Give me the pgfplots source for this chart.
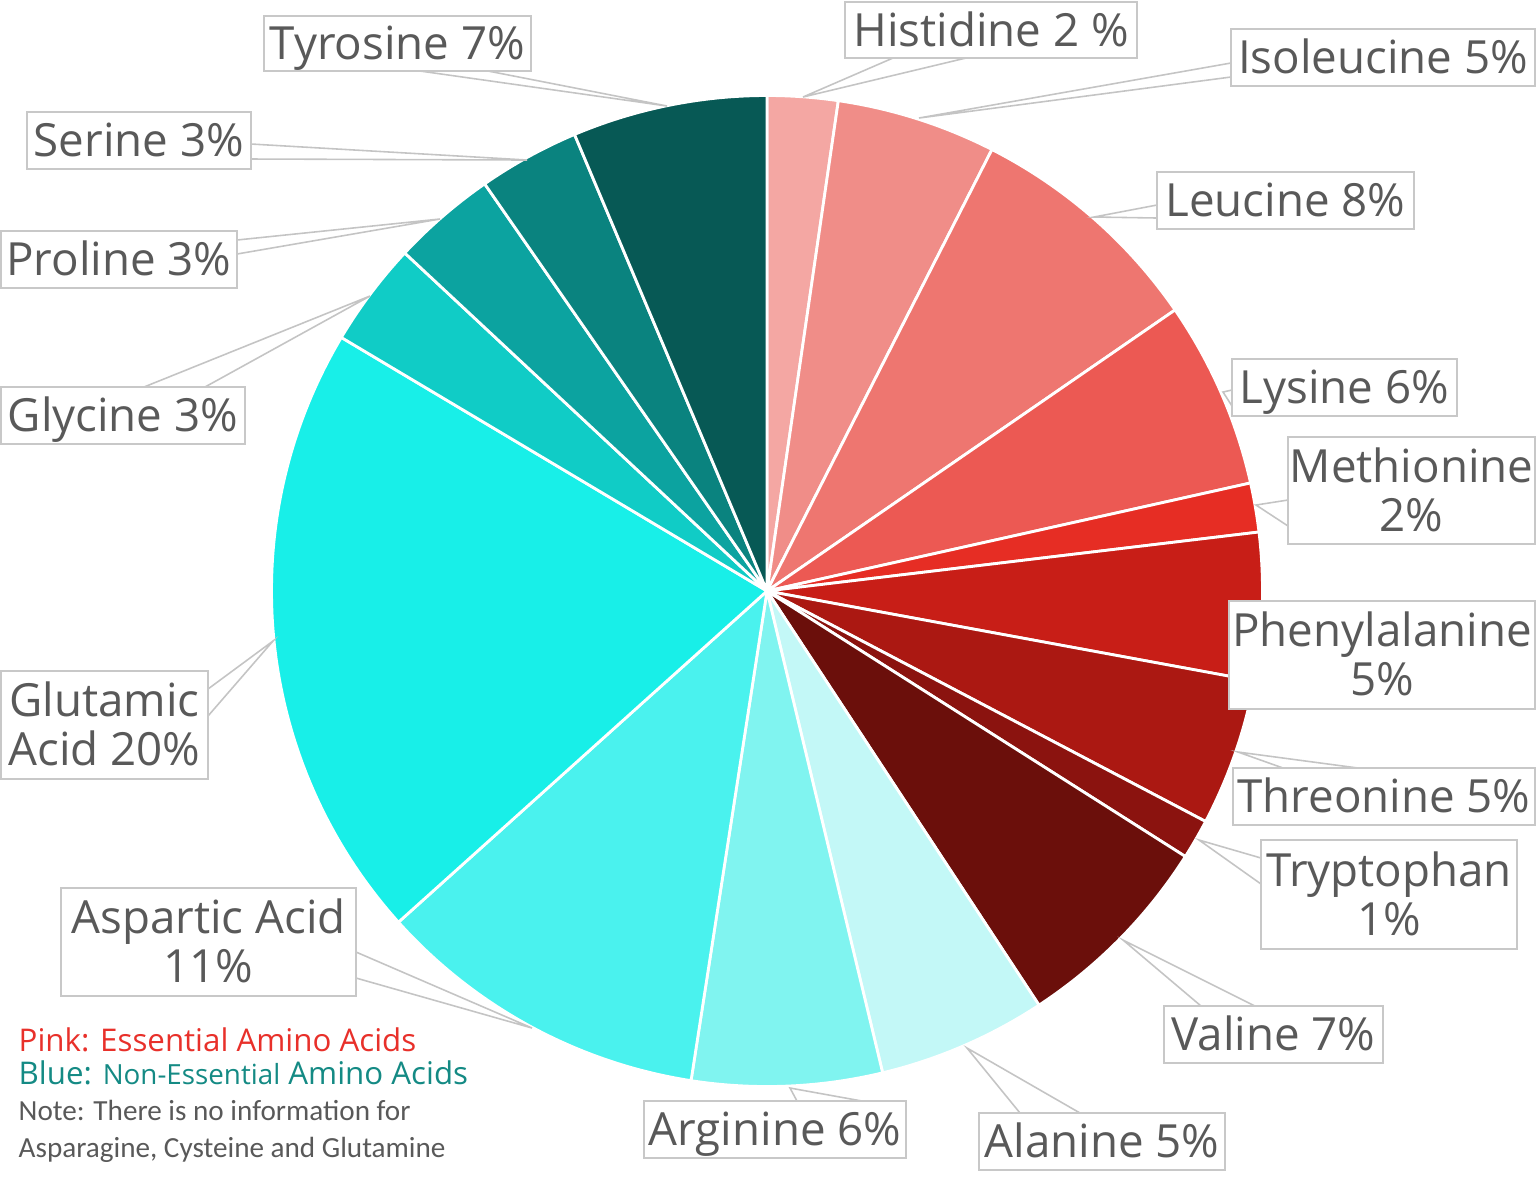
\documentclass[border=0pt]{standalone}
\usepackage{fontspec}
\setmainfont{Open Sans}
\newfontfamily\notefont{Carlito}
\usepackage{pgfplots}
\usepackage{pgfplotstable}
\pgfplotsset{compat=1.18}
\usetikzlibrary{calc}

% slice colours, clockwise from 12 o'clock
\definecolor{pc0}{HTML}{F4A7A3}
\definecolor{pc1}{HTML}{F08D88}
\definecolor{pc2}{HTML}{EE7670}
\definecolor{pc3}{HTML}{EC5953}
\definecolor{pc4}{HTML}{E62D24}
\definecolor{pc5}{HTML}{C81E17}
\definecolor{pc6}{HTML}{AB1812}
\definecolor{pc7}{HTML}{8B130F}
\definecolor{pc8}{HTML}{6B0F0B}
\definecolor{pc9}{HTML}{C3F8F7}
\definecolor{pc10}{HTML}{80F4F0}
\definecolor{pc11}{HTML}{4AF2EE}
\definecolor{pc12}{HTML}{18EFE8}
\definecolor{pc13}{HTML}{10CCC6}
\definecolor{pc14}{HTML}{0CA3A0}
\definecolor{pc15}{HTML}{0A837F}
\definecolor{pc16}{HTML}{075955}
\definecolor{txtc}{HTML}{595959}
\definecolor{boxc}{HTML}{C8C8C8}
\definecolor{linec}{HTML}{C4C4C4}
\definecolor{pinkc}{HTML}{E8302A}
\definecolor{bluec}{HTML}{148A84}

% share of the circle (percent) per amino acid
\pgfplotstableread{
name          value
Histidine     2.3
Isoleucine    5.2
Leucine       7.9
Lysine        6.1
Methionine    1.6
Phenylalanine 4.8
Threonine     4.8
Tryptophan    1.3
Valine        6.75
Alanine       5.5
Arginine      6.2
Aspartic      10.9
Glutamic      20.2
Glycine       3.4
Proline       3.4
Serine        3.3
Tyrosine      6.35
}\piedata

\newcommand\lblfont{\fontsize{13}{14.3}\selectfont}
% box: x1 y1 x2 y2 text (one line)
\newcommand\lab[5]{%
  \draw[boxc, line width=0.6pt, fill=white] (axis cs:#1,#2) rectangle (axis cs:#3,#4);
  \node[text=txtc, font=\lblfont, inner sep=0pt, anchor=base]
    at (axis cs:{(#1+#3)/2},{(#2+#4)/2+16}) {#5};}
% box: x1 y1 x2 y2 line1 line2
\newcommand\labb[6]{%
  \draw[boxc, line width=0.6pt, fill=white] (axis cs:#1,#2) rectangle (axis cs:#3,#4);
  \node[text=txtc, font=\lblfont, inner sep=0pt, anchor=base]
    at (axis cs:{(#1+#3)/2},{(#2+#4)/2-8.5}) {#5};
  \node[text=txtc, font=\lblfont, inner sep=0pt, anchor=base]
    at (axis cs:{(#1+#3)/2},{(#2+#4)/2+40.5}) {#6};}
% pointer: base1 base2 tip
\newcommand\ptr[6]{%
  \draw[linec, line width=0.45pt] (axis cs:#1,#2) -- (axis cs:#5,#6) -- (axis cs:#3,#4);}

\begin{document}
\begin{tikzpicture}
\begin{axis}[
  width=15.36cm, height=11.85cm, scale only axis,
  hide axis, clip=false,
  xmin=0, xmax=1536, ymin=0, ymax=1185, y dir=reverse,
]
\gdef\cum{0}
\pgfplotstablegetrowsof{\piedata}
\pgfmathtruncatemacro\nrows{\pgfplotsretval-1}
\foreach \i in {0,...,\nrows}{
  \pgfplotstablegetelem{\i}{value}\of\piedata
  \pgfmathsetmacro\a{\cum}
  \pgfmathsetmacro\b{\cum+3.6*\pgfplotsretval}
  \xdef\cum{\b}
  \edef\tmp{\noexpand\fill[fill=pc\i, draw=white, line width=0.8pt, line join=round]
    (axis cs:767,591) -- ++({90-\a}:4.955cm)
    arc[start angle={90-\a}, end angle={90-\b}, radius=4.955cm] -- cycle;}
  \tmp
}

% leader lines
\ptr{420}{71}{488}{71}{667}{106}
\ptr{893}{58}{966}{58}{803}{97}
\ptr{1231}{63}{1231}{77}{919}{118}
\ptr{1157}{205}{1157}{218}{1094}{217}
\ptr{1232}{390}{1232}{406}{1223}{392}
\ptr{1288}{500}{1288}{526}{1256}{505}
\ptr{1283}{768}{1358}{768}{1238}{752}
\ptr{1261}{858}{1261}{884}{1199}{840}
\ptr{1201}{1006}{1255}{1006}{1123}{940}
\ptr{1020}{1113}{1080}{1113}{967}{1048}
\ptr{797}{1101}{862}{1101}{790}{1088}
\ptr{356}{952}{356}{978}{532}{1028}
\ptr{208}{689}{208}{716}{273}{641}
\ptr{144}{387}{205}{387}{370}{296}
\ptr{237}{240}{237}{254}{440}{219}
\ptr{251}{144}{251}{159}{527}{160}

% label boxes
\lab{264}{16}{531}{71}{Tyrosine 7\%}
\lab{845}{2}{1137}{58}{Histidine 2 \%}
\lab{1231}{29}{1535}{86}{Isoleucine 5\%}
\lab{1157}{172}{1414}{229}{Leucine 8\%}
\lab{1232}{359}{1457}{416}{Lysine 6\%}
\labb{1288}{437}{1535}{544}{Methionine}{2\%}
\labb{1229}{601}{1535}{709}{Phenylalanine}{5\%}
\lab{1233}{768}{1535}{825}{Threonine 5\%}
\labb{1261}{840}{1517}{949}{Tryptophan}{1\%}
\lab{1164}{1006}{1383}{1063}{Valine 7\%}
\lab{979}{1113}{1225}{1170}{Alanine 5\%}
\lab{644}{1101}{906}{1158}{Arginine 6\%}
\labb{61}{888}{356}{996}{Aspartic Acid}{11\%}
\labb{1}{671}{208}{779}{Glutamic}{Acid 20\%}
\lab{1}{387}{245}{444}{Glycine 3\%}
\lab{1}{231}{237}{288}{Proline 3\%}
\lab{27}{112}{251}{169}{Serine 3\%}

% notes
\node[anchor=base west, inner sep=0pt, text=pinkc, font=\fontsize{8.9}{10}\selectfont]
  at (axis cs:18,1051) {Pink: Essential Amino Acids};
\node[anchor=base west, inner sep=0pt, text=bluec, font=\fontsize{8.9}{10}\selectfont]
  at (axis cs:18,1084) {Blue: {\fontsize{7.9}{10}\selectfont Non-Essential} Amino Acids};
\node[anchor=base west, inner sep=0pt, text=txtc, font=\notefont\fontsize{8.3}{10}\selectfont]
  at (axis cs:18,1120) {Note: There is no information for};
\node[anchor=base west, inner sep=0pt, text=txtc, font=\notefont\fontsize{8.3}{10}\selectfont]
  at (axis cs:18,1157) {Asparagine, Cysteine and Glutamine};
\end{axis}
\pgfresetboundingbox
\path (current axis.south west) rectangle (current axis.north east);
\end{tikzpicture}
\end{document}
